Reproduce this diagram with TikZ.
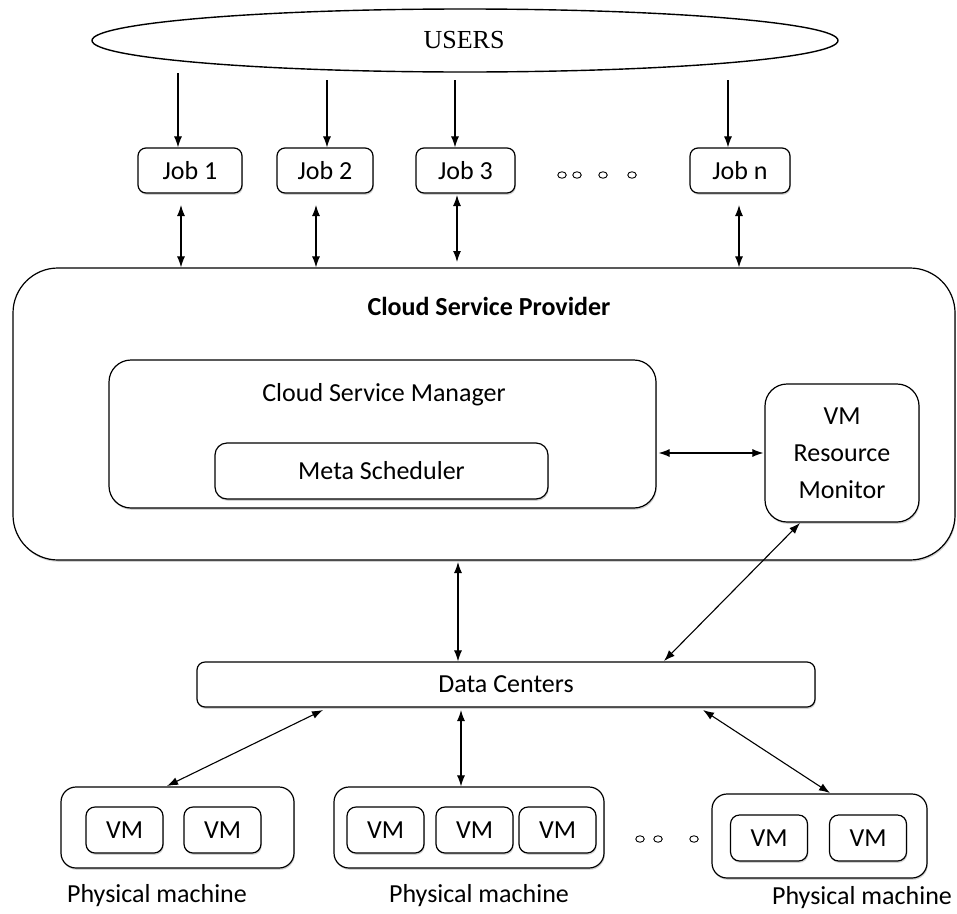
\documentclass[tikz,border=0pt]{standalone}
\usepackage{fontspec}
\setmainfont{Carlito}
\newfontfamily\usersfont{Liberation Serif}
\usetikzlibrary{arrows.meta,shapes.geometric,shadows}
\begin{document}
\begin{tikzpicture}[x=1pt,y=-1pt,
  font=\fontsize{26}{37}\selectfont,
  box/.style={draw, fill=white, line width=1.2pt, rounded corners=#1, inner sep=0pt,
    drop shadow={shadow xshift=0.8pt, shadow yshift=-1.8pt, fill=black!35}},
  box/.default=10pt,
  arr/.style={line width=1.1pt, -{Latex[length=11pt,width=8pt]}},
  darr/.style={line width=1.1pt, {Latex[length=11pt,width=8pt]}-{Latex[length=11pt,width=8pt]}},
  dotc/.style={draw, line width=0.9pt, ellipse, minimum width=8.5pt, minimum height=6.5pt, inner sep=0pt},
  vmbox/.style={box=9pt, minimum width=77pt, minimum height=46pt},
  jobbox/.style={box=8pt, minimum height=45pt},
  pmbox/.style={box=15pt, minimum height=81pt}
]
\useasboundingbox (0,0) rectangle (957,913);

% users
\node[draw, line width=1.4pt, ellipse, minimum width=746pt, minimum height=63pt, inner sep=0pt] (users) at (465,40.5) {};
\node (userstext) at (464,40) {\usersfont USERS};

% jobs
\node[jobbox, minimum width=104pt] (job1) at (190,170.5) {Job 1};
\node[jobbox, minimum width=96pt] (job2) at (325,170.5) {Job 2};
\node[jobbox, minimum width=99pt] (job3) at (465.5,170.5) {Job 3};
\node[jobbox, minimum width=100pt] (jobn) at (740,170.5) {Job n};
\node[dotc] (jd1) at (562,175) {};
\node[dotc] (jd2) at (577,175) {};
\node[dotc] (jd3) at (603,175) {};
\node[dotc] (jd4) at (632,175) {};

% arrows users -> jobs
\coordinate (u1) at (178,73);
\coordinate (u2) at (327,80);
\coordinate (u3) at (455,80);
\coordinate (u4) at (728,80);
\draw[arr] (u1) -- (u1 |- job1.north);
\draw[arr] (u2) -- (u2 |- job2.north);
\draw[arr] (u3) -- (u3 |- job3.north);
\draw[arr] (u4) -- (u4 |- jobn.north);

% cloud service provider
\node[box=45pt, minimum width=942pt, minimum height=292pt] (csp) at (484,414) {};
\node (csptitle) at (489,306) {\bfseries Cloud Service Provider};

% jobs <-> csp
\coordinate (j1) at (181,205);
\coordinate (j2) at (316,205);
\coordinate (j3) at (457,195);
\coordinate (j3e) at (457,262);
\coordinate (j4) at (739,205);
\draw[darr] (j1) -- (j1 |- csp.north);
\draw[darr] (j2) -- (j2 |- csp.north);
\draw[darr] (j3) -- (j3e);
\draw[darr] (j4) -- (j4 |- csp.north);

% cloud service manager
\node[box=22pt, minimum width=547pt, minimum height=148pt] (csm) at (382.5,434) {};
\node (csmtitle) at (384,395) {Cloud Service Manager};
\node[box=12pt, minimum width=333pt, minimum height=56pt] (ms) at (381.5,471) {Meta Scheduler};

% VM resource monitor
\node[box=22pt, minimum width=154pt, minimum height=138pt, align=center] (vmrm) at (842,453) {VM\\Resource\\Monitor};
\draw[darr] ([xshift=2pt]csm.east |- vmrm.west) -- ([xshift=-1pt]vmrm.west);

% data centers
\node[box=8pt, minimum width=618pt, minimum height=45pt] (dc) at (506,684.5) {Data Centers};
\coordinate (c1) at (458,562);
\draw[darr] (c1) -- (c1 |- dc.north);
\coordinate (v1) at (800,523);
\coordinate (v2) at (664,661);
\draw[darr] (v1) -- (v2);

% physical machines
\node[pmbox, minimum width=233pt] (pm1) at (177.5,827.5) {};
\node[pmbox, minimum width=270pt] (pm2) at (469,827.5) {};
\node[pmbox, minimum width=215pt, minimum height=84pt] (pm3) at (819.5,836) {};

\node[vmbox] (vm11) at (124.5,830) {VM};
\node[vmbox] (vm12) at (222.5,830) {VM};
\node[vmbox] (vm21) at (385.5,830) {VM};
\node[vmbox] (vm22) at (474.5,830) {VM};
\node[vmbox] (vm23) at (557.5,830) {VM};
\node[vmbox] (vm31) at (769,838) {VM};
\node[vmbox] (vm32) at (868,838) {VM};

\node[dotc] (pd1) at (640,839) {};
\node[dotc] (pd2) at (658,839) {};
\node[dotc] (pd3) at (694,839) {};

% dc <-> pms
\coordinate (d1) at (323,710);
\coordinate (p1) at (167,786);
\coordinate (d2) at (461,710);
\coordinate (d3) at (703,710);
\coordinate (p3) at (830,793);
\draw[darr] (d1) -- (p1);
\draw[darr] (d2) -- (d2 |- pm2.north);
\draw[darr] (d3) -- (p3);

% labels
\node (l1) at (157,896) {Physical machine};
\node (l2) at (479,896) {Physical machine};
\node (l3) at (862,898) {Physical machine};
\end{tikzpicture}
\end{document}
